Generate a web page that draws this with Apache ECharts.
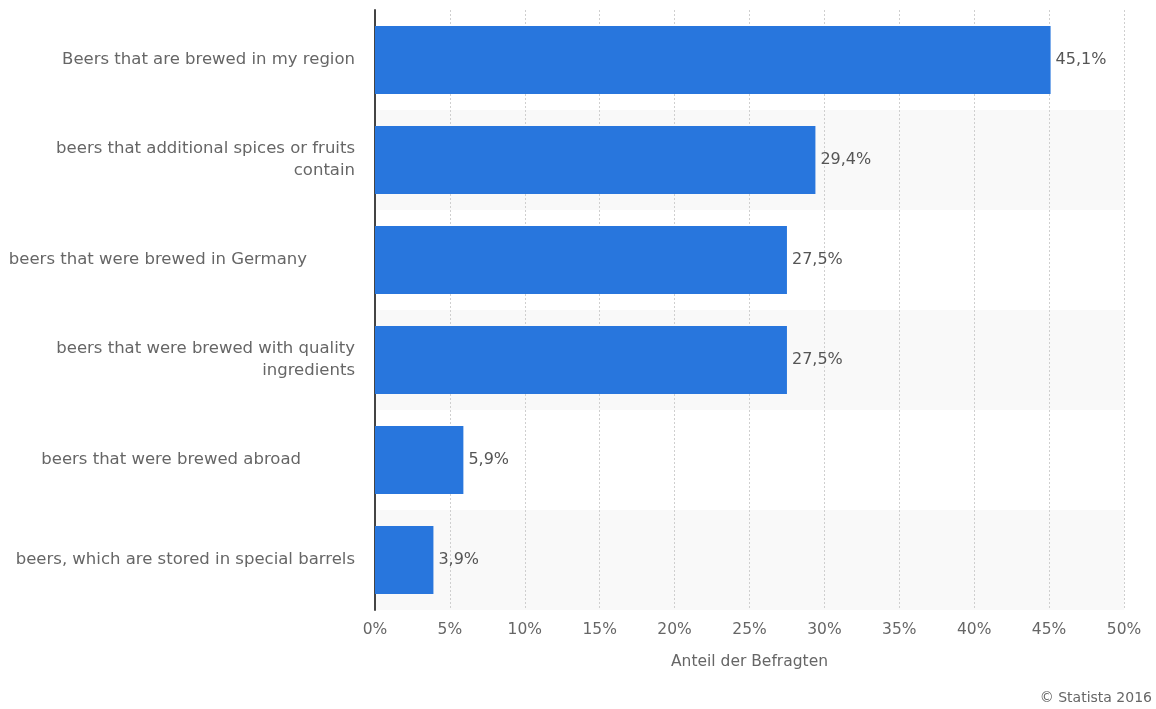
<!DOCTYPE html>
<html>
<head>
<meta charset="utf-8">
<script src="https://cdn.jsdelivr.net/npm/echarts@6/dist/echarts.min.js"></script>
<style>
  html, body { margin: 0; padding: 0; background: #fff; }
  #chart { width: 1156px; height: 709px; }
</style>
</head>
<body>
<div id="chart"></div>
<script>
// Survey answers, top to bottom
const categories = [
  'Beers that are brewed in my region',
  'beers that additional spices or fruits\ncontain',
  'beers that were brewed in Germany',
  'beers that were brewed with quality\ningredients',
  'beers that were brewed abroad',
  'beers, which are stored in special barrels'
];
// Extra right-hand gap some labels carry after their text
const labelGaps = [0, 0, 48, 0, 54, 0];
// Share of respondents, percent
const shares = [45.1, 29.4, 27.5, 27.5, 5.9, 3.9];
const xTicks = [0, 5, 10, 15, 20, 25, 30, 35, 40, 45, 50];

const fontFamily = '"DejaVu Sans", Verdana, sans-serif';
const textBase = { color: '#666', fontFamily: fontFamily };
const chart = echarts.init(document.getElementById('chart'));

chart.setOption({
  animation: false,
  grid: { left: 375, right: 32, top: 10, bottom: 99, containLabel: false },
  xAxis: {
    type: 'value',
    min: xTicks[0],
    max: xTicks[xTicks.length - 1],
    interval: xTicks[1] - xTicks[0],
    name: 'Anteil der Befragten',
    nameLocation: 'middle',
    nameGap: 44,
    nameTextStyle: Object.assign({ fontSize: 15.5 }, textBase),
    axisLine: { show: false },
    axisTick: { show: false },
    axisLabel: Object.assign({
      fontSize: 15.5, margin: 12,
      formatter: v => v + '%'
    }, textBase),
    splitLine: { show: true, lineStyle: { color: '#cfcfcf', type: [2, 2], width: 1 } }
  },
  yAxis: {
    type: 'category',
    data: categories,
    inverse: true,
    axisLine: { show: true, lineStyle: { color: '#444', width: 2 } },
    axisTick: { show: false },
    splitArea: { show: true, areaStyle: { color: ['rgba(255,255,255,0)', '#f9f9f9'] } },
    axisLabel: Object.assign({
      margin: 20,
      fontSize: 16.5,
      lineHeight: 22,
      align: 'right',
      formatter: (v, i) => '{g' + i + '|' + v + '}',
      rich: Object.fromEntries(labelGaps.map((g, i) => ['g' + i, Object.assign({
        fontSize: 16.5, lineHeight: 22,
        align: 'right', padding: [0, g, 0, 0]
      }, textBase)]))
    }, textBase)
  },
  series: [{
    type: 'bar',
    data: shares,
    barCategoryGap: '32%',
    itemStyle: { color: '#2876dd' },
    label: Object.assign({
      show: true,
      position: 'right',
      distance: 5,
      fontSize: 16,
      formatter: p => p.value.toFixed(1).replace('.', ',') + '%'
    }, textBase, { color: '#555' })
  }],
  graphic: [{
    type: 'text',
    right: 4,
    top: 691,
    style: { text: '© Statista 2016', fill: '#666', fontSize: 14, fontFamily: fontFamily }
  }]
});
</script>
</body>
</html>
